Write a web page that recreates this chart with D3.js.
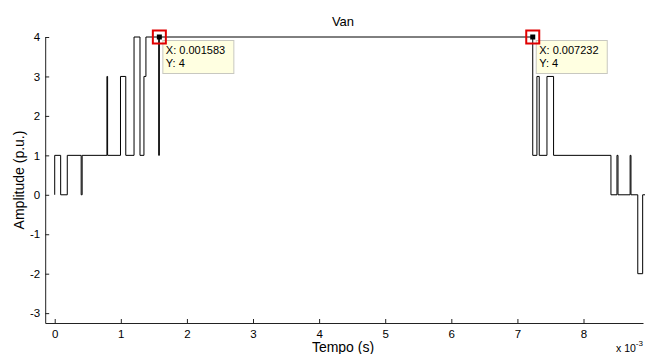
<!DOCTYPE html>
<html>
<head>
<meta charset="utf-8">
<script src="https://cdn.jsdelivr.net/npm/d3@7"></script>
<style>
  html, body { margin: 0; padding: 0; background: #fff; }
  svg { display: block; font-family: "Liberation Sans", Arial, Helvetica, sans-serif; }
</style>
</head>
<body>
<svg id="chart" width="645" height="354"></svg>
<script>
// Phase voltage Van: step transitions (time in ms, level in p.u. held until the next time)
const stepTimes  = [0, 0, 0.09, 0.19, 0.40, 0.415, 0.79, 0.80, 0.995, 1.075, 1.20, 1.29, 1.35, 1.38, 1.573, 1.583,
                    7.232, 7.295, 7.330, 7.447, 7.547, 8.415, 8.506, 8.522, 8.705, 8.718, 8.821, 8.895, 8.95];
const stepLevels = [0, 1, 0, 1, 0, 1, 3, 1, 3, 1, 4, 1, 3, 4, 1, 4,
                    1, 3, 1, 3, 1, 0, 1, 0, 1, 0, -2, 0, 0];

const xTicks = [0, 1, 2, 3, 4, 5, 6, 7, 8];
const yTicks = [4, 3, 2, 1, 0, -1, -2, -3];

// Data cursors (time in s, value in p.u.)
const tipTimes  = [0.001583, 0.007232];
const tipValues = [4, 4];

const svg = d3.select("#chart");

const x = d3.scaleLinear().domain([-0.144, 8.9]).range([45.2, 643]);
const y = d3.scaleLinear().domain([-3.25, 4]).range([323, 37]);

// Waveform
const line = d3.line()
  .x((d, i) => x(stepTimes[i]))
  .y((d, i) => y(stepLevels[i]))
  .curve(d3.curveStepAfter);

svg.append("path")
  .datum(stepTimes)
  .attr("d", line)
  .attr("fill", "none")
  .attr("stroke", "#000")
  .attr("stroke-width", 1);

// Axes (ticks point inwards)
const xAxis = d3.axisBottom(x).tickValues(xTicks).tickSizeInner(-4).tickSizeOuter(0).tickPadding(7)
  .tickFormat(d3.format("d"));
const gx = svg.append("g").attr("transform", "translate(0,323)").call(xAxis);

const yAxis = d3.axisLeft(y).tickValues(yTicks).tickSizeInner(-4).tickSizeOuter(0).tickPadding(5)
  .tickFormat(d => d < 0 ? "-" + Math.abs(d) : d);
const gy = svg.append("g").attr("transform", "translate(45.2,0)").call(yAxis);

[gx, gy].forEach(g => {
  g.select(".domain").attr("stroke", "#222").attr("stroke-width", 1);
  g.selectAll(".tick line").attr("stroke", "#222");
  g.selectAll(".tick text").attr("font-size", 11.5).attr("fill", "#000")
    .attr("font-family", "Liberation Sans, Arial, sans-serif");
});

// Title and axis labels
svg.append("text").attr("x", 343).attr("y", 26).attr("text-anchor", "middle")
  .attr("font-size", 13).text("Van");

svg.append("text").attr("x", 343).attr("y", 352).attr("text-anchor", "middle")
  .attr("font-size", 14).text("Tempo (s)");

svg.append("text").attr("transform", "translate(24,180) rotate(-90)")
  .attr("text-anchor", "middle").attr("font-size", 14).text("Amplitude (p.u.)");

// Exponent label for the time axis
const expo = svg.append("text").attr("x", 616).attr("y", 352).attr("font-size", 10.5);
expo.append("tspan").text("x 10");
expo.append("tspan").attr("dy", -6).attr("font-size", 8).text("-3");

// Data cursors
const tips = svg.append("g");
tipTimes.forEach((t, i) => {
  const px = x(t * 1000), py = y(tipValues[i]);
  const g = tips.append("g");
  g.append("rect").attr("x", px + 3.5).attr("y", py + 3.5).attr("width", 71).attr("height", 33)
    .attr("fill", "#ffffe1").attr("stroke", "#c8c8c0").attr("stroke-width", 1);
  g.append("text").attr("x", px + 6.5).attr("y", py + 17).attr("font-size", 11)
    .text("X: " + t.toFixed(6));
  g.append("text").attr("x", px + 6.5).attr("y", py + 30).attr("font-size", 11)
    .text("Y: " + tipValues[i]);
  g.append("rect").attr("x", px - 6.5).attr("y", py - 6.5).attr("width", 13).attr("height", 13)
    .attr("fill", "none").attr("stroke", "#e00000").attr("stroke-width", 2);
  g.append("rect").attr("x", px - 2.5).attr("y", py - 2.5).attr("width", 5).attr("height", 5)
    .attr("fill", "#000");
});
</script>
</body>
</html>
